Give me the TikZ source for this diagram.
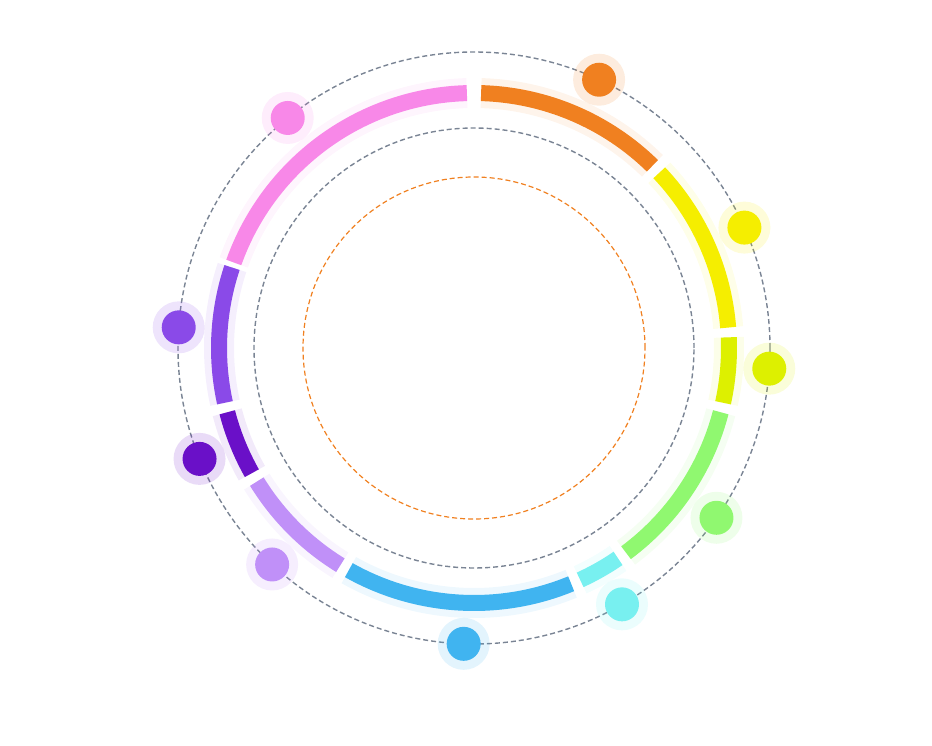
\documentclass[tikz,border=0pt]{standalone}
\usepackage{tikz}
\usetikzlibrary{positioning,calc}
\definecolor{segorange}{HTML}{F08020}
\definecolor{segyellow}{HTML}{F5EE00}
\definecolor{seglime}{HTML}{DDF000}
\definecolor{seggreen}{HTML}{90F870}
\definecolor{segcyan}{HTML}{78F0F0}
\definecolor{segblue}{HTML}{40B4F0}
\definecolor{seglilac}{HTML}{C090F8}
\definecolor{segdark}{HTML}{6A10C8}
\definecolor{segviolet}{HTML}{8A4AE8}
\definecolor{segpink}{HTML}{F888E8}
\definecolor{ringgray}{HTML}{7A8494}
\begin{document}
\begin{tikzpicture}[x=1pt,y=1pt]
  \tikzset{ring/.style={draw=ringgray,line width=1.4pt,dash pattern=on 5pt off 3pt},
           seg/.style={line width=16pt},
           dot/.style={circle,inner sep=0pt,minimum size=34pt}}
  \useasboundingbox (0,0) rectangle (932,-746);
  \coordinate (c) at (474,-348);

  % dashed rings
  \draw[ring] (c) circle (296);
  \draw[ring] (c) circle (220);
  \draw[draw=segorange,line width=1.2pt,dash pattern=on 5pt off 3pt] (c) circle (171);

  % coloured segments: start, end, colour
  \foreach \a/\b/\col in {89/45/segorange, 44/4/segyellow, 3/-13/seglime,
      -14/-54/seggreen, -55/-66/segcyan, -67/-120/segblue, -121/-149/seglilac,
      -150/-166/segdark, -167/-199/segviolet, 161/91/segpink}{
    \draw[seg,draw=\col!25,line width=30pt,opacity=.35] ($(c)+(\a-0.6:255)$) arc (\a-0.6:\b+0.6:255);
    \draw[seg,draw=\col] ($(c)+(\a-0.6:255)$) arc (\a-0.6:\b+0.6:255);
  }

  % dots on the outer ring
  \foreach \ang/\col [count=\i] in {65/segorange, 24/segyellow, -4/seglime,
      -35/seggreen, -60/segcyan, -92/segblue, -133/seglilac, -158/segdark,
      176/segviolet, 129/segpink}{
    \fill[\col,opacity=.15] ($(c)+(\ang:296)$) circle (26);
    \node[dot,fill=\col] (d\i) at ($(c)+(\ang:296)$) {};
  }
\end{tikzpicture}
\end{document}
